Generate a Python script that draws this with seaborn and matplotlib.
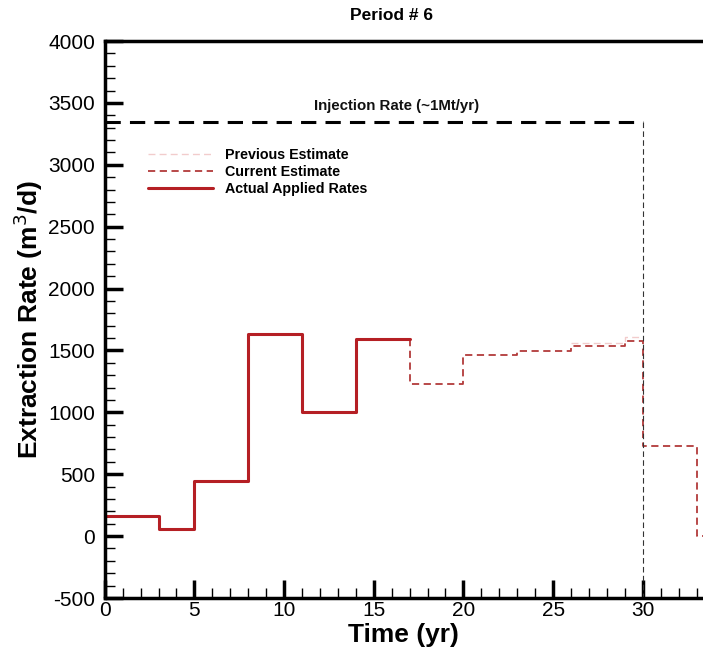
import numpy as np
import pandas as pd
import matplotlib
matplotlib.use("Agg")
import matplotlib.pyplot as plt
from matplotlib.ticker import MultipleLocator
import seaborn as sns

# Step schedules: start times (yr) and rates (m^3/d) held until the next start
actual_start = [0, 3, 5, 8, 11, 14, 17]
actual_rate = [160, 55, 445, 1630, 1005, 1590, 1590]

current_start = [17, 17, 20, 23, 26, 29, 30, 33, 34]
current_rate = [1590, 1230, 1465, 1497, 1537, 1575, 730, 0, 0]

previous_start = [26, 29, 30]
previous_rate = [1560, 1612, 1612]

injection_time = [0, 30]
injection_rate = [3344, 3344]

sns.set_theme(style="white")
plt.rcParams['font.family'] = ['Liberation Sans', 'DejaVu Sans']
plt.rcParams['axes.unicode_minus'] = False
plt.rcParams['text.color'] = 'black'
plt.rcParams['axes.labelcolor'] = 'black'

fig = plt.figure(figsize=(7.03, 6.51), dpi=100)
ax = fig.add_axes([0.149, 0.0814, 0.851, 0.8556])

df_act = pd.DataFrame({"t": actual_start, "q": actual_rate})
df_cur = pd.DataFrame({"t": current_start, "q": current_rate})
df_prev = pd.DataFrame({"t": previous_start, "q": previous_rate})
df_inj = pd.DataFrame({"t": injection_time, "q": injection_rate})

sns.lineplot(data=df_prev, x="t", y="q", ax=ax, drawstyle="steps-post",
             color="#f2cccc", lw=1.0, linestyle=(0, (5, 3)),
             label="Previous Estimate", sort=False, estimator=None)
sns.lineplot(data=df_cur, x="t", y="q", ax=ax, drawstyle="steps-post",
             color="#b23a3a", lw=1.3, linestyle=(0, (4, 2.5)),
             label="Current Estimate", sort=False, estimator=None)
sns.lineplot(data=df_act, x="t", y="q", ax=ax, drawstyle="steps-post",
             color="#b51f24", lw=2.2, label="Actual Applied Rates",
             sort=False, estimator=None)
sns.lineplot(data=df_inj, x="t", y="q", ax=ax, color="black", lw=2.2,
             linestyle=(0, (5, 3)), sort=False, estimator=None, legend=False)
ax.plot([injection_time[-1], injection_time[-1]], [injection_rate[-1], -500],
        color="#333333", lw=0.8, linestyle=(0, (5, 3)))

ax.text(16.3, 3420, "Injection Rate (~1Mt/yr)", ha="center", va="bottom",
        fontsize=10.8, fontweight="bold", color="#111111")

ax.set_xlim(0, 33.36)
ax.set_ylim(-500, 4000)
ax.xaxis.set_major_locator(MultipleLocator(5))
ax.xaxis.set_minor_locator(MultipleLocator(1))
ax.yaxis.set_major_locator(MultipleLocator(500))
ax.yaxis.set_minor_locator(MultipleLocator(100))
ax.tick_params(which="major", direction="in", length=13, width=2.5,
               labelsize=15, colors="black", pad=7)
ax.tick_params(which="minor", direction="in", length=7, width=1, colors="black")
ax.tick_params(axis="x", which="major", pad=2)
ax.tick_params(axis="x", which="both", bottom=True, top=False)
ax.tick_params(axis="y", which="both", left=True, right=False)

for side in ["left", "bottom", "top"]:
    ax.spines[side].set_visible(True)
    ax.spines[side].set_linewidth(2.5)
    ax.spines[side].set_color("black")
ax.spines["right"].set_visible(False)

ax.set_xlabel("Time (yr)", fontsize=19, fontweight="bold", labelpad=2)
ax.set_ylabel("Extraction Rate (m$^3$/d)", fontsize=19, fontweight="bold", labelpad=2)
fig.text(391 / 703, 1 - 15 / 651, "Period # 6", ha="center", va="center",
         fontsize=12.5, fontweight="bold")

leg = ax.legend(loc="upper left", bbox_to_anchor=(0.062, 0.818), frameon=False,
                prop={"size": 10.3, "weight": "bold"}, handlelength=4.6,
                handletextpad=0.8, labelspacing=0.22, borderaxespad=0)

fig.savefig("out.png", dpi=100)
